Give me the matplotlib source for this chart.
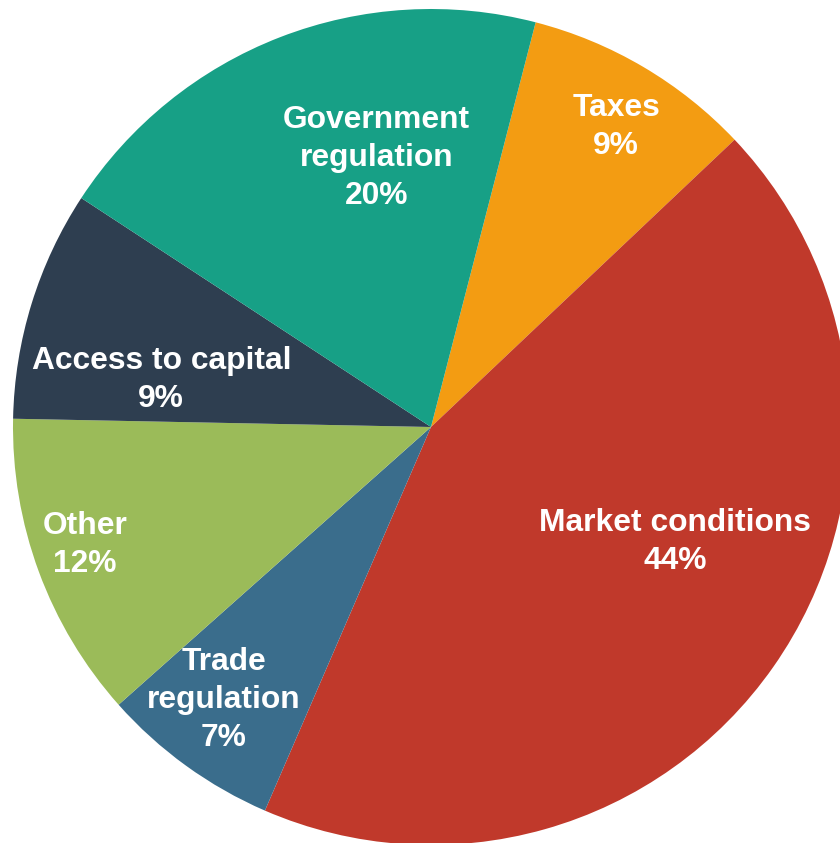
import numpy as np
import matplotlib.pyplot as plt

categories = ["Taxes", "Market conditions", "Trade\nregulation", "Other",
              "Access to capital", "Government\nregulation"]
shares = [9, 44, 7, 12, 9, 20]
colors = ["#F39C12", "#C0392B", "#3A6D8C", "#9BBB59", "#2E3E50", "#17A086"]

# label placement: polar angle (deg, counter-clockwise from +x) and radius fraction
label_angle = [58.3, -25.2, -127.2, 198.8, 170.1, 101.4]
label_frac = [0.843, 0.645, 0.82, 0.875, 0.655, 0.656]

W, H = 840, 843
fig = plt.figure(figsize=(W / 100, H / 100), dpi=100)
ax = fig.add_axes([0, 0, 1, 1])

cx, cy, R = 431, 416, 418
ax.pie(shares, colors=colors, startangle=75.5, counterclock=False,
       center=(cx, cy), radius=R, frame=True,
       wedgeprops=dict(linewidth=0))
ax.set_xlim(0, W)
ax.set_ylim(0, H)
ax.set_aspect("equal")
ax.axis("off")

for name, val, ang, fr in zip(categories, shares, label_angle, label_frac):
    a = np.deg2rad(ang)
    x = cx + fr * R * np.cos(a)
    y = cy + fr * R * np.sin(a)
    ax.text(x, y, f"{name}\n{val}%", ha="center", va="center",
            color="white", fontsize=22.9, fontweight="bold",
            family="Liberation Sans", linespacing=1.34)

fig.savefig("out.png", dpi=100)
